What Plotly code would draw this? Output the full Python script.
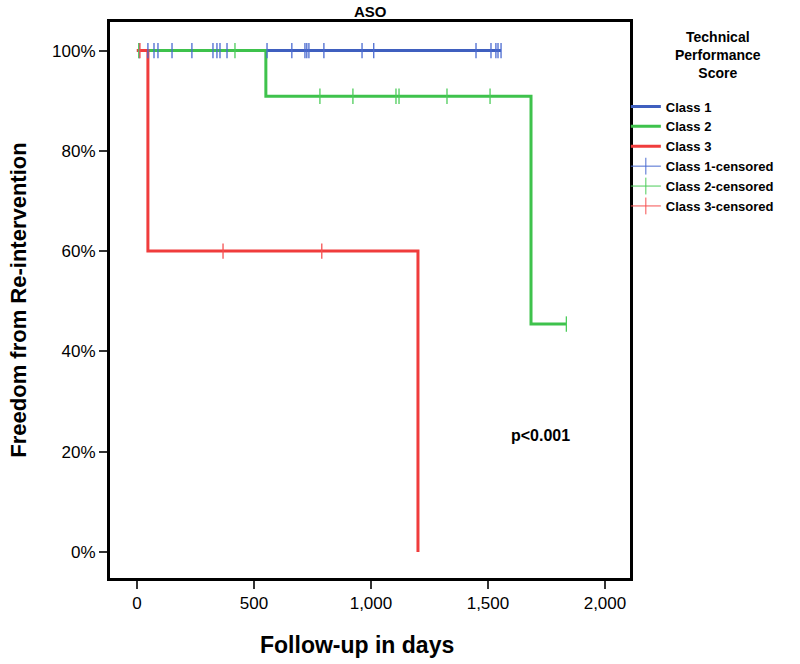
import plotly.graph_objects as go

# ---- data (days, % freedom from re-intervention) ----
class_names = ["Class 1", "Class 2", "Class 3"]
colors = ["#3f5fbf", "#3ec24c", "#f03c3c"]
light_colors = ["#4a6ad0", "#4ccc5a", "#f55050"]

step_times = [
    [0, 1556],
    [0, 551, 1684, 1835],
    [0, 47, 1201],
]
step_surv = [
    [100, 100],
    [100, 90.9, 45.45, 45.45],
    [100, 60, 0],
]
censored_times = [
    [10, 47, 73, 90, 150, 235, 325, 342, 355, 385, 556, 662, 718, 726, 735,
     799, 962, 1012, 1449, 1513, 1534, 1543, 1556],
    [8, 419, 782, 923, 1107, 1120, 1325, 1509, 1835],
    [13, 368, 790],
]

x_ticks = [0, 500, 1000, 1500, 2000]
y_ticks = [0, 20, 40, 60, 80, 100]
y_tick_labels = ["0%", "20%", "40%", "60%", "80%", "100%"]

FONT = "Arial, Liberation Sans, sans-serif"


def surv_at(times, surv, t):
    val = surv[0]
    for ti, si in zip(times, surv):
        if ti <= t:
            val = si
    return val


fig = go.Figure()

# step curves
for i in range(3):
    fig.add_trace(go.Scatter(
        x=step_times[i], y=step_surv[i], mode="lines",
        line=dict(shape="hv", color=colors[i], width=3),
        name=class_names[i], showlegend=True,
    ))

# censored marks (plot)
for i in range(3):
    ys = [surv_at(step_times[i], step_surv[i], t) for t in censored_times[i]]
    fig.add_trace(go.Scatter(
        x=censored_times[i], y=ys, mode="markers",
        marker=dict(symbol="line-ns-open", size=11, color=light_colors[i],
                    line=dict(color=light_colors[i], width=1.3)),
        showlegend=False, name=class_names[i] + "-censored",
    ))

# censored legend entries
for i in range(3):
    fig.add_trace(go.Scatter(
        x=[None], y=[None], mode="lines+markers",
        line=dict(color=light_colors[i], width=1),
        marker=dict(symbol="line-ns-open", size=12, color=light_colors[i],
                    line=dict(color=light_colors[i], width=1)),
        name=class_names[i] + "-censored", showlegend=True,
    ))

fig.update_layout(
    width=800, height=664,
    margin=dict(l=110, r=170, t=22, b=86, autoexpand=False),
    paper_bgcolor="white", plot_bgcolor="white",
    font=dict(family=FONT, color="black", size=16),
    showlegend=True,
    legend=dict(
        x=0.992, y=0.875, xanchor="left", yanchor="top",
        font=dict(family=FONT, size=13, color="black", weight="bold"),
        bgcolor="rgba(0,0,0,0)", itemwidth=30,
        tracegroupgap=0,
    ),
    annotations=[
        dict(text="<b>ASO</b>", x=0.5, y=1.0, xref="paper", yref="paper",
             yanchor="bottom", xanchor="center", showarrow=False,
             font=dict(size=15, family=FONT), yshift=0),
        dict(text="<b>Technical<br>Performance<br>Score</b>",
             x=(718 - 110) / 520, y=(578 - 55) / 556,
             xanchor="center", yanchor="middle",
             xref="paper", yref="paper", showarrow=False,
             font=dict(size=14, family=FONT), align="center"),
        dict(text="<b>p<0.001</b>", x=1726, y=23.3, xref="x", yref="y",
             showarrow=False, font=dict(size=16, family=FONT)),
        dict(text="<b>Follow-up in days</b>", x=0.475, y=(578 - 645) / 556,
             xref="paper", yref="paper", xanchor="center", yanchor="middle",
             showarrow=False, font=dict(size=23, family=FONT)),
    ],
)

fig.update_xaxes(
    range=[-115, 2107], tickvals=x_ticks, tickformat=",",
    showline=True, linecolor="black", linewidth=3, mirror=True,
    ticks="outside", ticklen=8, tickwidth=1.5, tickcolor="#333",
    showgrid=False, zeroline=False,
    tickfont=dict(size=17, family=FONT),
)
fig.update_yaxes(
    range=[-5.2, 105.7], tickvals=y_ticks, ticktext=y_tick_labels,
    showline=True, linecolor="black", linewidth=3, mirror=True,
    ticks="outside", ticklen=8, tickwidth=1.5, tickcolor="#333",
    showgrid=False, zeroline=False,
    tickfont=dict(size=17, family=FONT),
    title=dict(text="<b>Freedom from Re-intervention</b>",
               font=dict(size=22, family=FONT), standoff=20),
)

fig.write_html("out.html")
